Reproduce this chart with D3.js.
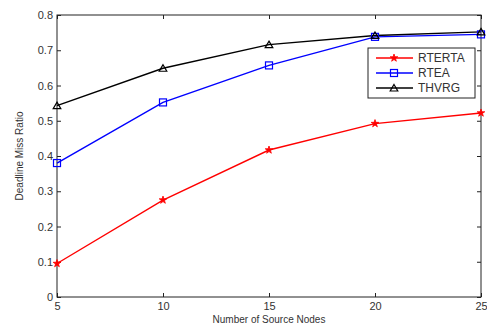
<!DOCTYPE html>
<html><head><meta charset="utf-8">
<script src="https://cdn.jsdelivr.net/npm/d3@7"></script>
<style>body{margin:0;background:#fff}svg{display:block}</style>
</head><body>
<svg id="c" width="487" height="327"></svg>
<script>
const categories = [5, 10, 15, 20, 25];
const rterta = [0.095, 0.275, 0.417, 0.492, 0.522];
const rtea = [0.38, 0.552, 0.657, 0.738, 0.745];
const thvrg = [0.543, 0.649, 0.716, 0.742, 0.752];
const yTicks = [0, 0.1, 0.2, 0.3, 0.4, 0.5, 0.6, 0.7, 0.8];
const seriesNames = ["RTERTA", "RTEA", "THVRG"];

const svg = d3.select("#c");
const L = 57, R = 481, T = 15, B = 297;
const x = d3.scaleLinear().domain([5, 25]).range([L, R]);
const y = d3.scaleLinear().domain([0, 0.8]).range([B, T]);
const font = "Liberation Sans, Arial, sans-serif";
const txt = "#333";

svg.append("rect").attr("x", L).attr("y", T).attr("width", R - L).attr("height", B - T)
  .attr("fill", "none").attr("stroke", "#222").attr("stroke-width", 1);

const tl = 4;
const xa = svg.append("g").attr("transform", `translate(0,${B})`)
  .call(d3.axisBottom(x).tickValues(categories).tickSize(-tl).tickFormat(d3.format("d")).tickPadding(4));
const xt = svg.append("g").attr("transform", `translate(0,${T})`)
  .call(d3.axisTop(x).tickValues(categories).tickSize(-tl).tickFormat(""));
const ya = svg.append("g").attr("transform", `translate(${L},0)`)
  .call(d3.axisLeft(y).tickValues(yTicks).tickSize(-tl).tickFormat(d => d === 0 ? "0" : d3.format(".1f")(d)).tickPadding(4));
const yr = svg.append("g").attr("transform", `translate(${R},0)`)
  .call(d3.axisRight(y).tickValues(yTicks).tickSize(-tl).tickFormat(""));
[xa, xt, ya, yr].forEach(g => {
  g.select(".domain").remove();
  g.selectAll(".tick line").attr("stroke", "#222");
  g.selectAll("text").attr("font-family", font).attr("font-size", 11).attr("fill", txt);
});
xa.selectAll("text").attr("dy", "0.85em");

svg.append("text").attr("x", (L + R) / 2).attr("y", 323).attr("text-anchor", "middle")
  .attr("font-family", font).attr("font-size", 10).attr("fill", txt).text("Number of Source Nodes");
svg.append("text").attr("transform", `translate(23,${(T + B) / 2}) rotate(-90)`).attr("text-anchor", "middle")
  .attr("font-family", font).attr("font-size", 10).attr("fill", txt).text("Deadline Miss Ratio");

const series = [
  {name: seriesNames[0], vals: rterta, color: "#ff0000", marker: "star"},
  {name: seriesNames[1], vals: rtea, color: "#0000ff", marker: "square"},
  {name: seriesNames[2], vals: thvrg, color: "#000000", marker: "triangle"}
];
const line = d3.line().x((d, i) => x(categories[i])).y(d => y(d));

function marker(g, type, color) {
  if (type === "star") {
    g.append("path").attr("d", d3.symbol(d3.symbolStar, 18)()).attr("fill", color).attr("stroke", color).attr("stroke-width", 0.8);
  } else if (type === "square") {
    g.append("rect").attr("x", -3.5).attr("y", -3.5).attr("width", 7).attr("height", 7)
      .attr("fill", "none").attr("stroke", color).attr("stroke-width", 1.2);
  } else {
    g.append("path").attr("d", "M0,-3.5L3.8,3L-3.8,3Z").attr("fill", "none").attr("stroke", color).attr("stroke-width", 1.2);
  }
}

const plot = svg.append("g");
series.forEach(s => {
  plot.append("path").attr("d", line(s.vals)).attr("fill", "none").attr("stroke", s.color).attr("stroke-width", 1.4);
});
series.forEach(s => {
  s.vals.forEach((v, i) => {
    const g = plot.append("g").attr("transform", `translate(${x(categories[i])},${y(v)})`);
    marker(g, s.marker, s.color);
  });
});

const lx = 368, ly = 48, lw = 107, lh = 50;
svg.append("rect").attr("x", lx).attr("y", ly).attr("width", lw).attr("height", lh)
  .attr("fill", "#fff").attr("stroke", "#222").attr("stroke-width", 1);
series.forEach((s, i) => {
  const cy = ly + 10 + i * 15;
  svg.append("line").attr("x1", lx + 8).attr("x2", lx + 45).attr("y1", cy).attr("y2", cy)
    .attr("stroke", s.color).attr("stroke-width", 1.4);
  const g = svg.append("g").attr("transform", `translate(${lx + 26},${cy})`);
  marker(g, s.marker, s.color);
  svg.append("text").attr("x", lx + 50).attr("y", cy).attr("dy", "0.35em")
    .attr("font-family", font).attr("font-size", 12).attr("fill", txt).text(s.name);
});
</script>
</body></html>
